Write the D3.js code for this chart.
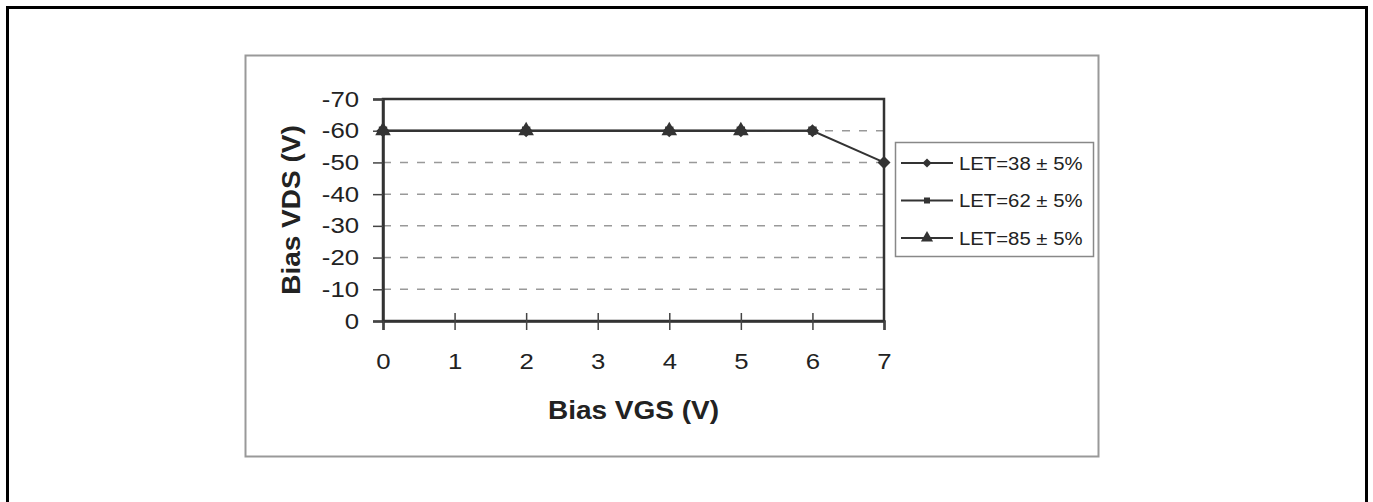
<!DOCTYPE html>
<html>
<head>
<meta charset="utf-8">
<script src="https://cdn.jsdelivr.net/npm/d3@7/dist/d3.min.js"></script>
<style>
  body { margin: 0; background: #fff; }
  text { font-family: "Liberation Sans", Arial, sans-serif; fill: #222; }
</style>
</head>
<body>
<div id="container"></div>
<script>
var w = 1373,
    h = 502;

// data
var xTicks = [0, 1, 2, 3, 4, 5, 6, 7];
var yTicks = [0, -10, -20, -30, -40, -50, -60, -70];

var seriesNames = ['LET=38 \u00b1 5%', 'LET=62 \u00b1 5%', 'LET=85 \u00b1 5%'];
var let38X = [0, 2, 4, 5, 6, 7];
var let38Y = [-60, -60, -60, -60, -60, -50];
var let62X = [0, 2, 4, 5, 6];
var let62Y = [-60, -60, -60, -60, -60];
var let85X = [0, 2, 4, 5];
var let85Y = [-60, -60, -60, -60];

// diamond = square turned 45deg
var series = [
    { name: seriesNames[0], xs: let38X, ys: let38Y, symbol: d3.symbolSquare, rot: 45, size: 85, legendSize: 42 },
    { name: seriesNames[1], xs: let62X, ys: let62Y, symbol: d3.symbolSquare, rot: 0, size: 70, legendSize: 36 },
    { name: seriesNames[2], xs: let85X, ys: let85Y, symbol: d3.symbolTriangle, rot: 0, size: 105, legendSize: 64 }
];

var svg = d3.select('#container')
    .append('svg')
    .attr('width', w)
    .attr('height', h);

// outer page frame
svg.append('rect')
    .attr('x', 7.5).attr('y', 7.5)
    .attr('width', 1359).attr('height', 600)
    .attr('fill', 'none')
    .attr('stroke', '#000')
    .attr('stroke-width', 3);

// chart frame
svg.append('rect')
    .attr('x', 245.5).attr('y', 55.5)
    .attr('width', 853).attr('height', 401)
    .attr('fill', 'none')
    .attr('stroke', '#999')
    .attr('stroke-width', 2);

var x = d3.scaleLinear().domain([0, 7]).range([383, 884]);
var y = d3.scaleLinear().domain([0, -70]).range([321, 99]);

// grid
svg.append('g').selectAll('line')
    .data(yTicks.filter(function(d) { return d !== 0 && d !== -70; }))
    .enter().append('line')
    .attr('x1', x(0)).attr('x2', x(7))
    .attr('y1', function(d) { return y(d); })
    .attr('y2', function(d) { return y(d); })
    .attr('stroke', '#999')
    .attr('stroke-width', 1.5)
    .attr('stroke-dasharray', '8,9');

// plot box
svg.append('rect')
    .attr('x', x(0)).attr('y', y(-70))
    .attr('width', x(7) - x(0)).attr('height', y(0) - y(-70))
    .attr('fill', 'none')
    .attr('stroke', '#333')
    .attr('stroke-width', 2.5);

// axes
var yAxis = svg.append('g')
    .attr('transform', 'translate(' + x(0) + ',0)')
    .call(d3.axisLeft(y).tickValues(yTicks).tickSize(10).tickPadding(14)
        .tickFormat(function(d) { return String(d); }));

var xAxis = svg.append('g')
    .attr('transform', 'translate(0,' + y(0) + ')')
    .call(d3.axisBottom(x).tickValues(xTicks).tickSize(9).tickPadding(23)
        .tickFormat(function(d) { return String(d); }));

[yAxis, xAxis].forEach(function(ax) {
    ax.select('.domain').attr('stroke', '#333').attr('stroke-width', 2.5);
    ax.selectAll('.tick line').attr('stroke', '#444').attr('stroke-width', 1.5);
    ax.selectAll('.tick text')
        .attr('fill', '#222')
        .attr('transform', 'scale(1.17,1)')
        .style('font-size', '22px')
        .style('font-family', '"Liberation Sans", Arial, sans-serif');
});
yAxis.selectAll('.tick text').attr('x', -24 / 1.17);
// x ticks cross the axis
xAxis.selectAll('.tick line').attr('y1', function(d) { return d === 0 || d === 7 ? 0 : -8; });

// axis titles
svg.append('text')
    .attr('transform', 'translate(' + (x(0) + x(7)) / 2 + ',419) scale(1.12,1)')
    .attr('text-anchor', 'middle')
    .style('font-size', '25px')
    .style('font-weight', 'bold')
    .text('Bias VGS (V)');

svg.append('text')
    .attr('transform', 'translate(300,' + (y(0) + y(-70)) / 2 + ') rotate(-90) scale(1.12,1)')
    .attr('text-anchor', 'middle')
    .style('font-size', '25px')
    .style('font-weight', 'bold')
    .text('Bias VDS (V)');

// series
var line = d3.line()
    .x(function(d) { return x(d[0]); })
    .y(function(d) { return y(d[1]); });

series.forEach(function(s) {
    var pts = s.xs.map(function(v, i) { return [v, s.ys[i]]; });
    svg.append('path')
        .datum(pts)
        .attr('d', line)
        .attr('fill', 'none')
        .attr('stroke', '#333')
        .attr('stroke-width', 2);
    svg.append('g').selectAll('path')
        .data(pts)
        .enter().append('path')
        .attr('transform', function(d) {
            return 'translate(' + x(d[0]) + ',' + y(d[1]) + ') rotate(' + s.rot + ')';
        })
        .attr('d', d3.symbol().type(s.symbol).size(s.size))
        .attr('fill', '#333');
});

// legend
var legend = svg.append('g');
legend.append('rect')
    .attr('x', 895.5).attr('y', 142.5)
    .attr('width', 198).attr('height', 114)
    .attr('fill', '#fff')
    .attr('stroke', '#888')
    .attr('stroke-width', 1.5);

var entry = legend.selectAll('.entry')
    .data(series)
    .enter().append('g')
    .attr('class', 'entry')
    .attr('transform', function(d, i) { return 'translate(0,' + (163 + i * 37.5) + ')'; });

entry.append('line')
    .attr('x1', 901).attr('x2', 953)
    .attr('stroke', '#333')
    .attr('stroke-width', 2);
entry.append('path')
    .attr('transform', function(d) { return 'translate(927,0) rotate(' + d.rot + ')'; })
    .attr('d', function(d) { return d3.symbol().type(d.symbol).size(d.legendSize)(); })
    .attr('fill', '#333');
entry.append('text')
    .attr('transform', 'translate(959,0) scale(1.07,1)')
    .attr('dy', '0.35em')
    .style('font-size', '19px')
    .text(function(d) { return d.name; });
</script>
</body>
</html>
